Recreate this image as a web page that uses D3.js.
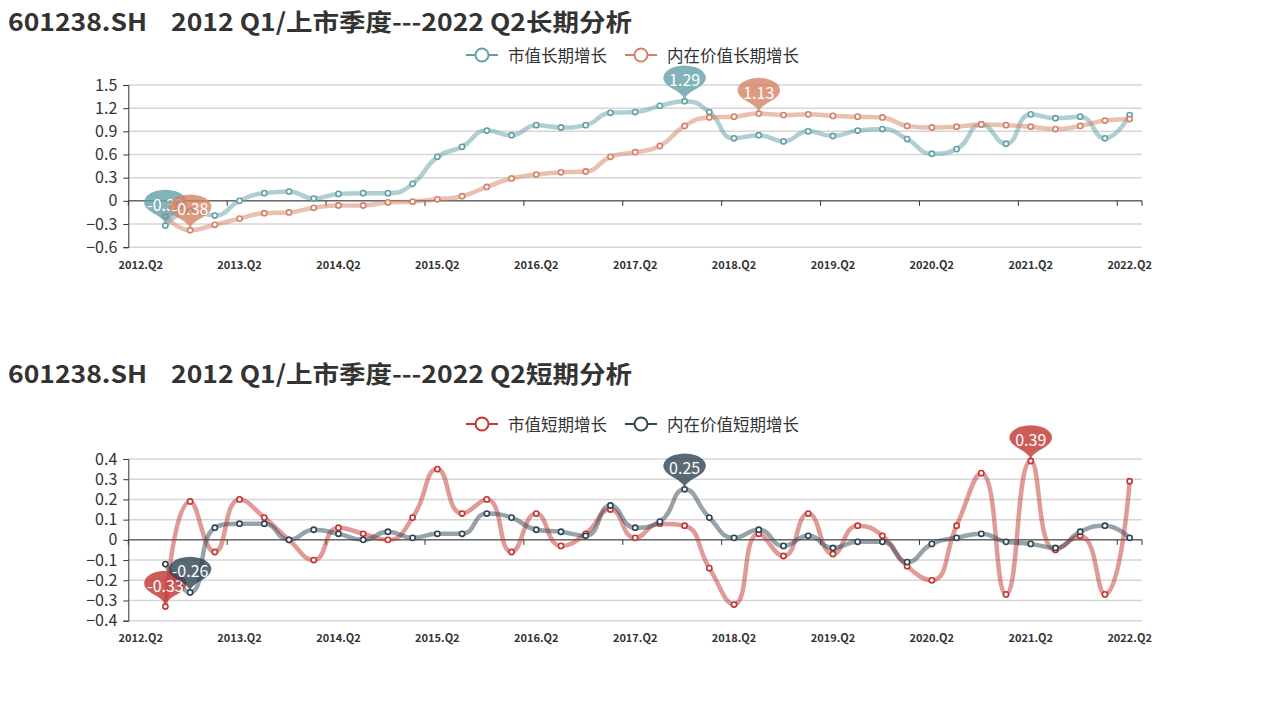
<!DOCTYPE html>
<html>
<head>
<meta charset="utf-8">
<script src="https://cdn.jsdelivr.net/npm/d3@7"></script>
<style>
  html, body { margin: 0; padding: 0; background: #fff; }
  svg { display: block; }
  text { font-family: "Noto Sans CJK SC", "Open Sans", sans-serif; }
</style>
</head>
<body>
<svg id="chart" width="1269" height="705"></svg>
<script>
// ---------------- DATA ----------------
const categories = [
  "2012.Q2","2012.Q3","2012.Q4","2013.Q1","2013.Q2","2013.Q3","2013.Q4","2014.Q1",
  "2014.Q2","2014.Q3","2014.Q4","2015.Q1","2015.Q2","2015.Q3","2015.Q4","2016.Q1",
  "2016.Q2","2016.Q3","2016.Q4","2017.Q1","2017.Q2","2017.Q3","2017.Q4","2018.Q1",
  "2018.Q2","2018.Q3","2018.Q4","2019.Q1","2019.Q2","2019.Q3","2019.Q4","2020.Q1",
  "2020.Q2","2020.Q3","2020.Q4","2021.Q1","2021.Q2","2021.Q3","2021.Q4","2022.Q1",
  "2022.Q2"
];

// long-term panel
const longTitle = "601238.SH    2012 Q1/上市季度---2022 Q2长期分析";
const longNames = ["市值长期增长", "内在价值长期增长"];
const marketLong = [null, -0.32, -0.13, -0.19, 0.00, 0.10, 0.12, 0.03, 0.09, 0.10, 0.10,
  0.22, 0.57, 0.70, 0.91, 0.85, 0.98, 0.95, 0.98, 1.14, 1.15, 1.23, 1.29, 1.15,
  0.81, 0.85, 0.77, 0.90, 0.84, 0.91, 0.93, 0.80, 0.61, 0.67, 0.99, 0.74, 1.12,
  1.07, 1.09, 0.81, 1.11];
const intrinsicLong = [null, -0.20, -0.38, -0.31, -0.23, -0.16, -0.15, -0.09, -0.06, -0.06, -0.02,
  -0.01, 0.02, 0.06, 0.18, 0.29, 0.34, 0.37, 0.38, 0.57, 0.63, 0.71, 0.97, 1.08,
  1.09, 1.13, 1.11, 1.12, 1.10, 1.09, 1.08, 0.97, 0.95, 0.96, 0.99, 0.98, 0.96,
  0.93, 0.97, 1.04, 1.06];
const longTicks = [-0.6, -0.3, 0, 0.3, 0.6, 0.9, 1.2, 1.5];

// short-term panel
const shortTitle = "601238.SH    2012 Q1/上市季度---2022 Q2短期分析";
const shortNames = ["市值短期增长", "内在价值短期增长"];
const marketShort = [null, -0.33, 0.19, -0.06, 0.20, 0.11, 0.00, -0.10, 0.06, 0.03, 0.00,
  0.11, 0.35, 0.13, 0.20, -0.06, 0.13, -0.03, 0.03, 0.15, 0.01, 0.08, 0.07, -0.14,
  -0.32, 0.03, -0.08, 0.13, -0.07, 0.07, 0.02, -0.13, -0.20, 0.07, 0.33, -0.27, 0.39,
  -0.05, 0.02, -0.27, 0.29];
const intrinsicShort = [null, -0.12, -0.26, 0.06, 0.08, 0.08, 0.00, 0.05, 0.03, 0.00, 0.04,
  0.01, 0.03, 0.03, 0.13, 0.11, 0.05, 0.04, 0.02, 0.17, 0.06, 0.09, 0.25, 0.11,
  0.01, 0.05, -0.03, 0.02, -0.04, -0.01, -0.01, -0.11, -0.02, 0.01, 0.03, -0.01, -0.02,
  -0.04, 0.04, 0.07, 0.01];
const shortTicks = [-0.4, -0.3, -0.2, -0.1, 0, 0.1, 0.2, 0.3, 0.4];

const labelEvery = 4;

// ---------------- ECharts-like smooth curve ----------------
function EchartsSmooth(context) { this._context = context; }
EchartsSmooth.prototype = {
  areaStart() {}, areaEnd() {},
  lineStart() { this._pts = []; },
  point(x, y) { this._pts.push([+x, +y]); },
  lineEnd() {
    const pts = this._pts, n = pts.length, ctx = this._context, s = 0.5;
    const mn = Math.min, mx = Math.max;
    let prevX, prevY, cpx0, cpy0, cpx1, cpy1, nCpx0, nCpy0;
    for (let i = 0; i < n; i++) {
      const x = pts[i][0], y = pts[i][1];
      if (i === 0) { ctx.moveTo(x, y); cpx0 = x; cpy0 = y; }
      else {
        if (i + 1 >= n) { cpx1 = x; cpy1 = y; }
        else {
          const nextX = pts[i + 1][0], nextY = pts[i + 1][1];
          let vx = nextX - prevX, vy = nextY - prevY;
          const dx0 = x - prevX, dx1 = nextX - x, dy0 = y - prevY, dy1 = nextY - y;
          const lp = Math.sqrt(dx0 * dx0 + dy0 * dy0);
          const ln = Math.sqrt(dx1 * dx1 + dy1 * dy1);
          const r = ln / (ln + lp);
          nCpx0 = x + vx * s * r; nCpy0 = y + vy * s * r;
          nCpx0 = mn(nCpx0, mx(nextX, x)); nCpy0 = mn(nCpy0, mx(nextY, y));
          nCpx0 = mx(nCpx0, mn(nextX, x)); nCpy0 = mx(nCpy0, mn(nextY, y));
          vx = nCpx0 - x; vy = nCpy0 - y;
          cpx1 = x - vx * lp / ln; cpy1 = y - vy * lp / ln;
          cpx1 = mn(cpx1, mx(prevX, x)); cpy1 = mn(cpy1, mx(prevY, y));
          cpx1 = mx(cpx1, mn(prevX, x)); cpy1 = mx(cpy1, mn(prevY, y));
          vx = x - cpx1; vy = y - cpy1;
          nCpx0 = x + vx * ln / lp; nCpy0 = y + vy * ln / lp;
        }
        ctx.bezierCurveTo(cpx0, cpy0, cpx1, cpy1, x, y);
        cpx0 = nCpx0; cpy0 = nCpy0;
      }
      prevX = x; prevY = y;
    }
  }
};
const echartsCurve = ctx => new EchartsSmooth(ctx);

// pin path (ECharts 'pin' symbol, tip at origin)
function pinPath(size) {
  const w = size / 5 * 3, h = size, r = w / 2;
  const dy = r * r / (h - r);
  const cy = -h + r + dy;
  const angle = Math.asin(dy / r);
  const dx = Math.cos(angle) * r;
  const tanX = Math.sin(angle), tanY = Math.cos(angle);
  const cpLen = r * 0.6, cpLen2 = r * 0.7;
  const p = d3.path();
  p.moveTo(-dx, cy + dy);
  p.arc(0, cy, r, Math.PI - angle, Math.PI * 2 + angle);
  p.bezierCurveTo(dx - tanX * cpLen, cy + dy + tanY * cpLen, 0, -cpLen2, 0, 0);
  p.bezierCurveTo(0, -cpLen2, -dx + tanX * cpLen, cy + dy + tanY * cpLen, -dx, cy + dy);
  p.closePath();
  return p.toString();
}

const svg = d3.select("#chart");
const left = 128.3, right = 1142;

function panel(cfg) {
  const g = svg.append("g");
  // title
  g.append("text")
    .attr("x", 8).attr("y", cfg.titleY)
    .attr("dominant-baseline", "central")
    .style("white-space", "pre")
    .attr("font-size", 24).attr("font-weight", "bold").attr("fill", "#333")
    .attr("textLength", 624).attr("lengthAdjust", "spacingAndGlyphs")
    .text(cfg.title);

  const x = d3.scaleBand().domain(categories).range([left, right]).padding(0);
  const bw = x.bandwidth();
  const cx = i => x(categories[i]) + bw / 2;
  const y = d3.scaleLinear().domain(cfg.domain).range(cfg.range);

  // legend
  const legendX = [466, 625];
  cfg.names.forEach((nm, k) => {
    const lg = g.append("g").attr("transform", `translate(${legendX[k]},${cfg.legendY})`);
    lg.append("line").attr("x1", 0).attr("x2", 32).attr("y1", 0).attr("y2", 0)
      .attr("stroke", cfg.colors[k]).attr("stroke-width", 2);
    lg.append("circle").attr("cx", 16).attr("cy", 0).attr("r", 6.5)
      .attr("fill", "#fff").attr("stroke", cfg.colors[k]).attr("stroke-width", 2);
    lg.append("text").attr("x", 42).attr("y", 0).attr("dominant-baseline", "central")
      .attr("font-size", 16.5).attr("fill", "#333").text(nm);
  });

  // grid lines
  g.append("g").selectAll("line").data(cfg.ticks).join("line")
    .attr("x1", left).attr("x2", right)
    .attr("y1", d => y(d)).attr("y2", d => y(d))
    .attr("stroke", "#d6d6d6").attr("stroke-width", 1.5);

  // y axis
  const ya = g.append("g").attr("transform", `translate(${left},0)`)
    .call(d3.axisLeft(y).tickValues(cfg.ticks).tickSize(5).tickPadding(6)
      .tickFormat(d => d3.format("")(Math.round(d * 10) / 10)));
  ya.select(".domain").attr("stroke", "#333");
  ya.selectAll(".tick line").attr("stroke", "#333");
  ya.selectAll("text").attr("font-size", 16).attr("fill", "#333")
    .attr("font-family", "\"Noto Sans CJK SC\", sans-serif");

  // x axis line at zero
  const y0 = y(0);
  g.append("line").attr("x1", left).attr("x2", right).attr("y1", y0).attr("y2", y0)
    .attr("stroke", "#333").attr("stroke-width", 1);
  const tickIdx = [];
  for (let i = 0; i < categories.length; i += labelEvery) tickIdx.push(i);
  g.append("g").selectAll("line").data(tickIdx).join("line")
    .attr("x1", i => x(categories[i])).attr("x2", i => x(categories[i]))
    .attr("y1", y0).attr("y2", y0 + 5).attr("stroke", "#333");
  g.append("line").attr("x1", right).attr("x2", right).attr("y1", y0).attr("y2", y0 + 5)
    .attr("stroke", "#333");
  g.append("g").selectAll("text").data(tickIdx).join("text")
    .attr("x", i => cx(i)).attr("y", cfg.xLabelY)
    .attr("text-anchor", "middle").attr("dominant-baseline", "central")
    .attr("font-size", 11).attr("font-weight", "bold").attr("fill", "#333")
    .text(i => categories[i]);

  // series
  const line = d3.line()
    .defined(d => d.v != null)
    .x(d => cx(d.i)).y(d => y(d.v))
    .curve(echartsCurve);
  cfg.series.forEach((vals, k) => {
    const data = vals.map((v, i) => ({ i, v }));
    g.append("path").datum(data).attr("d", line)
      .attr("fill", "none").attr("stroke", cfg.colors[k])
      .attr("stroke-opacity", 0.5).attr("stroke-width", 4.5)
      .attr("stroke-linejoin", "round").attr("stroke-linecap", "round");
    g.append("g").selectAll("circle").data(data.filter(d => d.v != null)).join("circle")
      .attr("cx", d => cx(d.i)).attr("cy", d => y(d.v)).attr("r", 2.6)
      .attr("fill", "#fff").attr("stroke", cfg.colors[k]).attr("stroke-width", 1.6);
  });

  // mark points (max & min)
  const pd = pinPath(50);
  cfg.series.forEach((vals, k) => {
    const valid = vals.map((v, i) => ({ i, v })).filter(d => d.v != null);
    const mxD = valid.reduce((a, b) => (b.v > a.v ? b : a));
    const mnD = valid.reduce((a, b) => (b.v < a.v ? b : a));
    [mxD, mnD].forEach(d => {
      const pg = g.append("g").attr("transform", `translate(${cx(d.i)},${y(d.v)})`);
      pg.append("path").attr("d", pd).attr("transform", "scale(1.42,0.82)")
        .attr("fill", cfg.colors[k]).attr("fill-opacity", 0.8);
      pg.append("text").attr("x", 0).attr("y", -22)
        .attr("text-anchor", "middle").attr("dominant-baseline", "central")
        .attr("font-size", 16).attr("fill", "#fff")
        .attr("font-family", "\"Noto Sans CJK SC\", sans-serif")
        .text(d.v.toFixed(2).replace(/\.?0+$/, ""));
    });
  });
}

panel({
  title: longTitle, titleY: 20, legendY: 55, names: longNames,
  colors: ["#61a0a8", "#d48265"],
  series: [marketLong, intrinsicLong],
  domain: [-0.6, 1.5], range: [247.2, 85], ticks: longTicks, xLabelY: 264
});
panel({
  title: shortTitle, titleY: 372, legendY: 424, names: shortNames,
  colors: ["#c23531", "#2f4554"],
  series: [marketShort, intrinsicShort],
  domain: [-0.4, 0.4], range: [620.7, 459], ticks: shortTicks, xLabelY: 637
});
</script>
</body>
</html>
